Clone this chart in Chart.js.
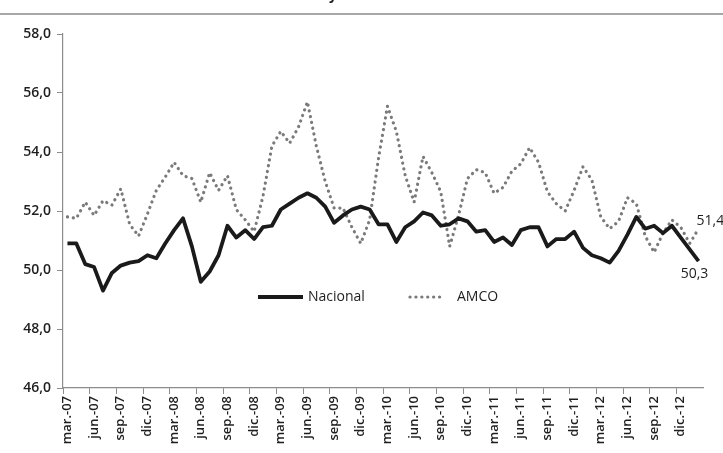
<!DOCTYPE html>
<html>
<head>
<meta charset="utf-8">
<script src="https://cdn.jsdelivr.net/npm/chart.js@4/dist/chart.umd.min.js"></script>
<style>
  html, body { margin: 0; padding: 0; background: #fff; }
  #wrap { width: 723px; height: 453px; position: relative; }
</style>
</head>
<body>
<div id="wrap"><canvas id="pmiChart"></canvas></div>
<script>
// months mar-07 .. feb-13
const months = [
  'mar.-07','abr.-07','may.-07','jun.-07','jul.-07','ago.-07','sep.-07','oct.-07','nov.-07','dic.-07','ene.-08','feb.-08',
  'mar.-08','abr.-08','may.-08','jun.-08','jul.-08','ago.-08','sep.-08','oct.-08','nov.-08','dic.-08','ene.-09','feb.-09',
  'mar.-09','abr.-09','may.-09','jun.-09','jul.-09','ago.-09','sep.-09','oct.-09','nov.-09','dic.-09','ene.-10','feb.-10',
  'mar.-10','abr.-10','may.-10','jun.-10','jul.-10','ago.-10','sep.-10','oct.-10','nov.-10','dic.-10','ene.-11','feb.-11',
  'mar.-11','abr.-11','may.-11','jun.-11','jul.-11','ago.-11','sep.-11','oct.-11','nov.-11','dic.-11','ene.-12','feb.-12',
  'mar.-12','abr.-12','may.-12','jun.-12','jul.-12','ago.-12','sep.-12','oct.-12','nov.-12','dic.-12','ene.-13','feb.-13'
];

const nacional = [
  50.9, 50.9, 50.2, 50.1, 49.3, 49.9, 50.15, 50.25, 50.3, 50.5, 50.4, 50.9,
  51.35, 51.75, 50.8, 49.6, 49.95, 50.5, 51.5, 51.1, 51.35, 51.05, 51.45, 51.5,
  52.05, 52.25, 52.45, 52.6, 52.45, 52.15, 51.6, 51.85, 52.05, 52.15, 52.05, 51.55,
  51.55, 50.95, 51.45, 51.65, 51.95, 51.85, 51.5, 51.55, 51.75, 51.65, 51.3, 51.35,
  50.95, 51.1, 50.85, 51.35, 51.45, 51.45, 50.8, 51.05, 51.05, 51.3, 50.75, 50.5,
  50.4, 50.25, 50.65, 51.2, 51.8, 51.4, 51.5, 51.25, 51.5, 51.1, 50.7, 50.3
];

const amco = [
  51.8, 51.75, 52.3, 51.85, 52.35, 52.2, 52.75, 51.55, 51.15, 51.9, 52.7, 53.15,
  53.65, 53.2, 53.1, 52.3, 53.3, 52.7, 53.2, 52.05, 51.7, 51.3, 52.5, 54.2,
  54.7, 54.3, 54.85, 55.7, 54.2, 53.0, 52.1, 52.1, 51.45, 50.9, 51.7, 53.8,
  55.55, 54.7, 53.2, 52.3, 53.85, 53.3, 52.65, 50.8, 51.85, 53.1, 53.4, 53.3,
  52.6, 52.8, 53.35, 53.6, 54.15, 53.65, 52.65, 52.25, 52.0, 52.7, 53.5, 53.05,
  51.8, 51.4, 51.65, 52.45, 52.25, 51.15, 50.6, 51.25, 51.7, 51.45, 50.9, 51.4
];

const yMin = 46, yMax = 58, yStep = 2;
const fontFam = '"Open Sans", "DejaVu Sans", sans-serif';
const txtColor = '#1e1e1e';
const axisColor = '#8c8c8c';

function fmt(v) {
  return v.toFixed(1).replace('.', ',');
}

// white bg, top rule, inside legend and last-value labels
const extras = {
  id: 'extras',
  beforeDraw(chart) {
    const ctx = chart.ctx;
    ctx.save();
    ctx.fillStyle = '#fff';
    ctx.fillRect(0, 0, chart.width, chart.height);
    ctx.strokeStyle = '#8a8a8a';
    ctx.lineWidth = 1.5;
    ctx.beginPath();
    ctx.moveTo(0, 14);
    ctx.lineTo(chart.width, 14);
    ctx.stroke();
    // descender of the cut title above
    ctx.fillStyle = txtColor;
    ctx.font = 'bold 14px ' + fontFam;
    ctx.textBaseline = 'alphabetic';
    ctx.fillText('y', 329, 0);
    ctx.restore();
  },
  afterDatasetsDraw(chart) {
    const ctx = chart.ctx;
    const ds = chart.data.datasets;
    ctx.save();
    ctx.font = '500 14px ' + fontFam;
    ctx.fillStyle = txtColor;
    ctx.textBaseline = 'middle';

    // legend
    const ly = 297;
    ctx.strokeStyle = ds[0].borderColor;
    ctx.lineWidth = ds[0].borderWidth;
    ctx.beginPath();
    ctx.moveTo(258, ly);
    ctx.lineTo(303, ly);
    ctx.stroke();
    ctx.textAlign = 'left';
    ctx.fillText(ds[0].label, 308, ly);

    ctx.strokeStyle = ds[1].borderColor;
    ctx.lineWidth = ds[1].borderWidth;
    ctx.lineCap = 'round';
    ctx.setLineDash(ds[1].borderDash);
    ctx.beginPath();
    ctx.moveTo(410, ly);
    ctx.lineTo(442, ly);
    ctx.stroke();
    ctx.setLineDash([]);
    ctx.fillText(ds[1].label, 457, ly);

    // last values
    const n = chart.getDatasetMeta(0).data.length - 1;
    const pN = chart.getDatasetMeta(0).data[n];
    const pA = chart.getDatasetMeta(1).data[n];
    ctx.textAlign = 'center';
    ctx.fillText(fmt(nacional[n]), pN.x - 4, pN.y + 13);
    ctx.textAlign = 'left';
    ctx.fillText(fmt(amco[n]), pA.x - 2, pA.y - 8);
    ctx.restore();
  }
};

new Chart(document.getElementById('pmiChart'), {
  type: 'line',
  data: {
    labels: months,
    datasets: [
      {
        label: 'Nacional',
        data: nacional,
        borderColor: '#1a1a1a',
        borderWidth: 3.8,
        pointRadius: 0,
        tension: 0,
        borderJoinStyle: 'round'
      },
      {
        label: 'AMCO',
        data: amco,
        borderColor: '#7a7a7a',
        borderWidth: 3.2,
        borderDash: [0.1, 5.8],
        borderCapStyle: 'round',
        pointRadius: 0,
        tension: 0
      }
    ]
  },
  options: {
    responsive: true,
    maintainAspectRatio: false,
    animation: false,
    layout: { padding: { top: 34, right: 20, left: 0, bottom: 0 } },
    plugins: {
      legend: { display: false },
      tooltip: { enabled: false }
    },
    scales: {
      x: {
        offset: true,
        grid: {
          offset: true,
          drawOnChartArea: false,
          tickLength: 6,
          color: (c) => (c.index % 3 === 0 ? axisColor : 'rgba(0,0,0,0)')
        },
        border: { color: axisColor, width: 1.2 },
        ticks: {
          autoSkip: false,
          maxRotation: 90,
          minRotation: 90,
          padding: 2,
          color: txtColor,
          font: { family: fontFam, size: 13, weight: '600' },
          callback: (v, i) => (i % 3 === 0 ? months[i] : '')
        },
        afterFit: (s) => { s.height = 65; }
      },
      y: {
        min: yMin,
        max: yMax,
        grid: {
          drawOnChartArea: false,
          tickLength: 6,
          color: axisColor
        },
        border: { color: axisColor, width: 1.2 },
        ticks: {
          stepSize: yStep,
          padding: 6,
          color: txtColor,
          font: { family: fontFam, size: 14, weight: '600' },
          callback: (v) => fmt(v)
        },
        afterFit: (s) => { s.width = 63; }
      }
    }
  },
  plugins: [extras]
});
</script>
</body>
</html>
